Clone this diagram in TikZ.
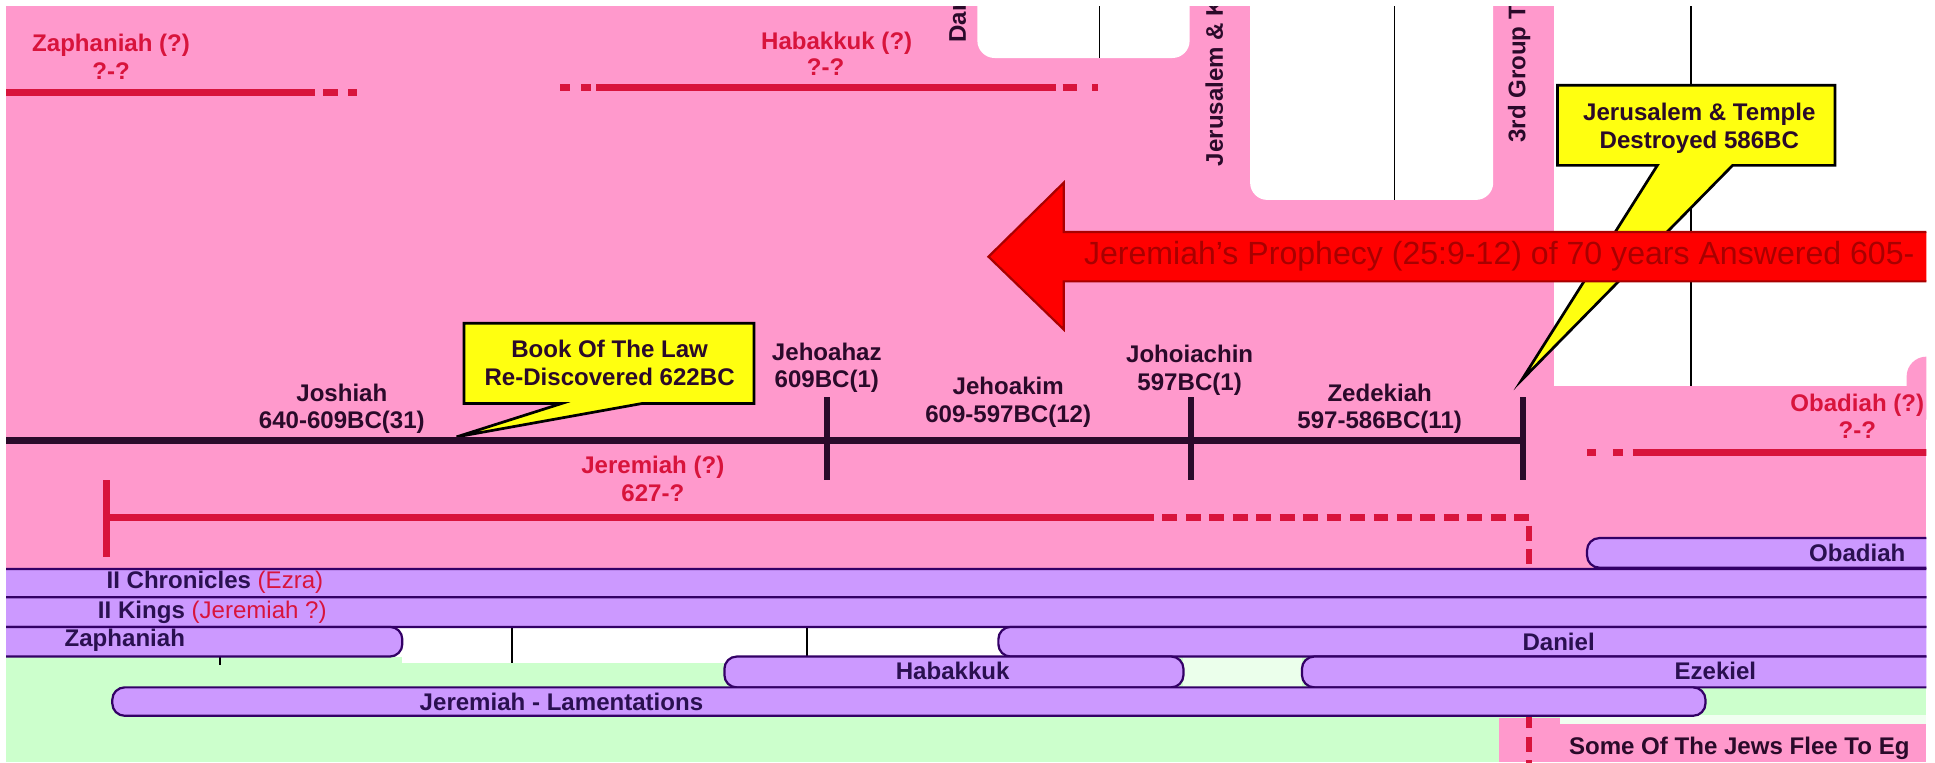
\documentclass[tikz,border=0pt]{standalone}
\usepackage{fontspec}
\setmainfont{Liberation Sans}
\definecolor{pinkbg}{HTML}{FF99CC}
\definecolor{barfill}{HTML}{CC99FF}
\definecolor{barline}{HTML}{330066}
\definecolor{bartext}{HTML}{2A1050}
\definecolor{greenbg}{HTML}{CCFFCC}
\definecolor{redline}{HTML}{D8143C}
\definecolor{labelcol}{HTML}{2A0A2A}
\definecolor{arrowred}{HTML}{FF0000}
\definecolor{arrowdark}{HTML}{A80000}
\definecolor{calloutfill}{HTML}{FFFF10}
\begin{document}
\begin{tikzpicture}[x=0.5pt,y=-0.5pt,
  lbl/.style={font=\fontsize{9.75}{11}\selectfont\bfseries, text=labelcol, align=center, inner sep=0pt},
  redlbl/.style={lbl, text=redline},
  vlbl/.style={lbl, rotate=90, anchor=west},
  bartxt/.style={font=\fontsize{9.75}{11}\selectfont\bfseries, text=bartext, inner sep=0pt},
  bar/.style={draw=barline, fill=barfill, line width=0.9pt, rounded corners=5pt},
  cutout/.style={fill=white, rounded corners=7pt},
  gridline/.style={draw=black, line width=0.7pt},
  tline/.style={draw=labelcol, line width=3pt},
  tickline/.style={draw=labelcol, line width=2.6pt},
  rline/.style={draw=redline, line width=2.8pt},
  rdash/.style={rline, dash pattern=on 6pt off 3.5pt},
  callbox/.style={fill=calloutfill, draw=black, line width=1.1pt, line join=miter},
  arrowshape/.style={fill=arrowred, draw=arrowdark, line width=0.9pt, line join=miter}
]
\useasboundingbox (0,0) rectangle (1568,617.5);
\fill[white] (0,0) rectangle (1568,617.5);
\begin{scope}
\clip (5,5) rectangle (1561,617.5);
% backgrounds
\fill[pinkbg] (5,5) rectangle (1561,470);
\fill[cutout] (792,-10) -- (792,47) -- (964,47) -- (964,-10) -- cycle;
\fill[cutout] (1013,-10) -- (1013,162) -- (1210,162) -- (1210,-10) -- cycle;
\fill[white] (1259,-10) rectangle (1600,313);
\fill[pinkbg, rounded corners=8pt] (1545,289) rectangle (1600,340);
\fill[greenbg] (5,532) rectangle (1561,617.5);
\fill[white] (326,505) rectangle (809,537);
\fill[white!60!greenbg] (959,532) rectangle (1055,557);
\fill[pinkbg] (1215,582) rectangle (1561,617.5);
\fill[white!70!greenbg] (1264,579) rectangle (1561,587);
% thin grid lines
\coordinate (ga1) at (891,-5); \coordinate (ga2) at (891,47);
\coordinate (gb1) at (1130,-5); \coordinate (gb2) at (1130,162);
\coordinate (gc1) at (1370,-5); \coordinate (gc2) at (1370,313);
\draw[gridline] (ga1) -- (ga2);
\draw[gridline] (gb1) -- (gb2);
\draw[gridline] (gc1) -- (gc2);
\coordinate (gd1) at (415,508); \coordinate (gd2) at (415,537);
\coordinate (ge1) at (654,508); \coordinate (ge2) at (654,532);
\coordinate (gf1) at (178,532); \coordinate (gf2) at (178,539);
\draw[gridline] (gd1) -- (gd2);
\draw[gridline] (ge1) -- (ge2);
\draw[gridline] (gf1) -- (gf2);
% vertical labels
\node[vlbl] (dan) at (776,35) {Dan};
\node[vlbl] (jerk) at (984,135) {Jerusalem \& K};
\node[vlbl] (third) at (1231,116) {3rd Group T};
% top prophets
\node[redlbl] (zaphlbl) at (90,46) {Zaphaniah (?)\\?-?};
\coordinate (zl0) at (5,75); \coordinate (zl1) at (255,75);
\draw[rline] (zl0) -- (zl1);
\draw[rline] (262,75) -- (274,75);
\draw[rline] (282,75) -- (289,75);
\node[redlbl] (habalbl) at (678,35) {Habakkuk (?)};
\node[redlbl] (habadate) at (669,54) {?-?};
\coordinate (hl0) at (483,71); \coordinate (hl1) at (856,71);
\draw[rline] (454,71) -- (462,71);
\draw[rline] (471,71) -- (479,71);
\draw[rline] (hl0) -- (hl1);
\draw[rline] (861,71) -- (873,71);
\draw[rline] (885,71) -- (890,71);
% callout for Jerusalem (behind the arrow)
\draw[callbox] (1262,69) -- (1487,69) -- (1487,134) -- (1404,134) -- (1233,308) -- (1343,134) -- (1262,134) -- cycle;
\node[lbl] (jtemple) at (1377,104) {Jerusalem \& Temple\\Destroyed 586BC};
% big red arrow
\draw[arrowshape] (801,208) -- (862,148) -- (862,188) -- (1600,188) -- (1600,228) -- (862,228) -- (862,267) -- cycle;
\node[anchor=west, inner sep=0pt, font=\fontsize{13}{15}\selectfont, text=arrowdark] (prophecy) at (878,208) {Jeremiah's Prophecy (25:9-12) of 70 years Answered 605-};
% callout for the Book of the Law
\draw[callbox] (376,262) -- (611,262) -- (611,327) -- (520,327) -- (370,354) -- (455,327) -- (376,327) -- cycle;
\node[lbl] (book) at (494,294) {Book Of The Law\\Re-Discovered 622BC};
% kings timeline
\coordinate (t0) at (5,357);
\coordinate (t1) at (670,357);
\coordinate (t2) at (965,357);
\coordinate (t3) at (1234,357);
\draw[tline] (t0) -- (t1) -- (t2) -- (t3);
\draw[tickline] (670,322) -- (670,389);
\draw[tickline] (965,322) -- (965,389);
\draw[tickline] (1234,322) -- (1234,389);
\node[lbl] (joshiah) at (277,331) {Joshiah\\640-609BC(31)};
\node[lbl] (jehoahaz) at (670,298) {Jehoahaz\\609BC(1)};
\node[lbl] (jehoakim) at (817,326) {Jehoakim\\609-597BC(12)};
\node[lbl] (johoiachin) at (964,300) {Johoiachin\\597BC(1)};
\node[lbl] (zedekiah) at (1118,331) {Zedekiah\\597-586BC(11)};
% Jeremiah
\node[redlbl] (jerlbl) at (529,388) {Jeremiah (?)\\627-?};
\coordinate (j0) at (86,419); \coordinate (j1) at (923,419);
\coordinate (j2) at (1239,419); \coordinate (j3) at (1239,620);
\draw[rline] (86,389) -- (86,451);
\draw[rline] (j0) -- (j1);
\draw[rdash] (j1) -- (j2) -- (j3);
% Obadiah
\node[redlbl] (obalbl) at (1505,337) {Obadiah (?)\\?-?};
\coordinate (o0) at (1323,367); \coordinate (o1) at (1600,367);
\draw[rline] (1286,367) -- (1293,367);
\draw[rline] (1307,367) -- (1315,367);
\draw[rline] (o0) -- (o1);
% bars
\draw[bar] (1286,436) rectangle (1600,460);
\node[bartxt] (obabar) at (1505,448) {Obadiah};
\draw[bar] (-20,461) rectangle (1600,484);
\node[bartxt, anchor=west] (chron) at (86,472) {II Chronicles {\mdseries\color{redline}(Ezra)}};
\draw[bar] (-20,484) rectangle (1600,508);
\node[bartxt, anchor=west] (kings) at (79,496) {II Kings {\mdseries\color{redline}(Jeremiah ?)}};
\draw[bar] (-20,508) rectangle (326,532);
\node[bartxt, anchor=west] (zaphbar) at (52,519) {Zaphaniah};
\draw[bar] (809,508) rectangle (1600,532);
\node[bartxt] (danbar) at (1263,520) {Daniel};
\draw[bar] (587,532) rectangle (959,557);
\node[bartxt] (habbar) at (772,544) {Habakkuk};
\draw[bar] (1055,532) rectangle (1600,557);
\node[bartxt] (ezebar) at (1390,544) {Ezekiel};
\draw[bar] (91,557) rectangle (1382,580);
\node[bartxt] (jlbar) at (455,569) {Jeremiah - Lamentations};
\node[bartxt, anchor=west, text=labelcol] (flee) at (1271,606) {Some Of The Jews Flee To Eg};
\end{scope}
\end{tikzpicture}
\end{document}
